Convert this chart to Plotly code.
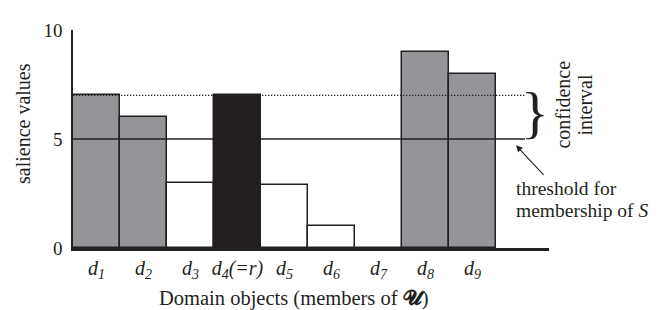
import plotly.graph_objects as go

categories = ["d1", "d2", "d3", "d4", "d5", "d6", "d7", "d8", "d9"]
tick_labels = ["<i>d</i><sub><i>1</i></sub>", "<i>d</i><sub><i>2</i></sub>", "<i>d</i><sub><i>3</i></sub>",
               "<i>d</i><sub><i>4</i></sub><i>(=r)</i>", "<i>d</i><sub><i>5</i></sub>", "<i>d</i><sub><i>6</i></sub>",
               "<i>d</i><sub><i>7</i></sub>", "<i>d</i><sub><i>8</i></sub>", "<i>d</i><sub><i>9</i></sub>"]
salience = [7, 6, 3, 7, 2.9, 1, 0, 9, 8]
groups = ["member", "member", "non", "referent", "non", "non", "non", "member", "member"]
threshold = 5
confidence_upper = 7

GRAY = "#949598"
BLACK = "#231f20"
WHITE = "#ffffff"
fill_map = {"member": GRAY, "non": WHITE, "referent": BLACK}
colors = [fill_map[g] for g in groups]

FONT = "'Liberation Serif', 'Times New Roman', serif"
xs = list(range(len(categories)))

# page body has an 8px margin; figure is sized/offset to compensate
OFF = 8
W, H = 659 - OFF, 310 - OFF
L, R, T, B = 73 - OFF, 659 - 549, 23 - OFF, 310 - 248
pw, ph = W - L - R, H - T - B


def px(x, y):
    """reference-window pixel -> paper coords"""
    return (x - OFF - L) / pw, (H - B - (y - OFF)) / ph


fig = go.Figure()
fig.add_trace(go.Bar(
    x=xs, y=salience, width=1.0,
    marker=dict(color=colors, line=dict(color=BLACK, width=1.5)),
    showlegend=False, hoverinfo="skip",
))

x_end = 9.12
fig.add_shape(type="line", xref="x", yref="y", x0=-0.5, x1=x_end, y0=confidence_upper, y1=confidence_upper,
              line=dict(color=BLACK, width=1.2, dash="1.3px,1.7px"), layer="above")
fig.add_shape(type="line", xref="x", yref="y", x0=-0.5, x1=x_end, y0=threshold, y1=threshold,
              line=dict(color=BLACK, width=1.5), layer="above")

texts = [
    dict(text="salience values", pos=(23, 120), angle=-90, size=20, anchor="center"),
    dict(text="Domain objects (members of <b>𝓤</b>)", pos=(294, 300), size=20.5, anchor="center"),
    dict(text="}", pos=(535, 108), size=58, anchor="center"),
    dict(text="confidence", pos=(563, 100), angle=-90, size=20, anchor="center"),
    dict(text="interval", pos=(585, 100), angle=-90, size=20, anchor="center"),
    dict(text="threshold for", pos=(514, 187), size=19.5, anchor="left"),
    dict(text="membership of <i>S</i>", pos=(514, 209), size=19.5, anchor="left"),
]
annotations = []
for t in texts:
    x, y = px(*t["pos"])
    annotations.append(dict(text=t["text"], x=x, y=y, xref="paper", yref="paper", showarrow=False,
                            xanchor=t["anchor"], yanchor="middle", textangle=t.get("angle", 0),
                            font=dict(family=FONT, size=t["size"], color=BLACK)))

hx, hy = px(516, 142)
annotations.append(dict(x=hx, y=hy, xref="paper", yref="paper",
                        ax=29, ay=31, showarrow=True, arrowhead=2, arrowsize=1.2, arrowwidth=1.1,
                        arrowcolor=BLACK, text=""))

fig.update_layout(
    width=W, height=H, margin=dict(l=L, r=R, t=T, b=B),
    paper_bgcolor="white", plot_bgcolor="white", bargap=0,
    annotations=annotations,
    font=dict(family=FONT, color=BLACK),
    xaxis=dict(range=[-0.5, 9.63], tickvals=xs, ticktext=tick_labels, showgrid=False, zeroline=False,
               showline=True, linecolor=BLACK, linewidth=2.5, ticks="", ticklabelstandoff=0,
               tickfont=dict(family=FONT, size=20, color=BLACK), fixedrange=True),
    yaxis=dict(range=[0, 10], tickvals=[0, 5, 10], ticktext=["0", "5", "10"], showgrid=False,
               zeroline=False, showline=True, linecolor=BLACK, linewidth=1.5, ticks="",
               ticklabelstandoff=5, tickfont=dict(family=FONT, size=19, color=BLACK), fixedrange=True),
)

fig.write_html("out.html")
